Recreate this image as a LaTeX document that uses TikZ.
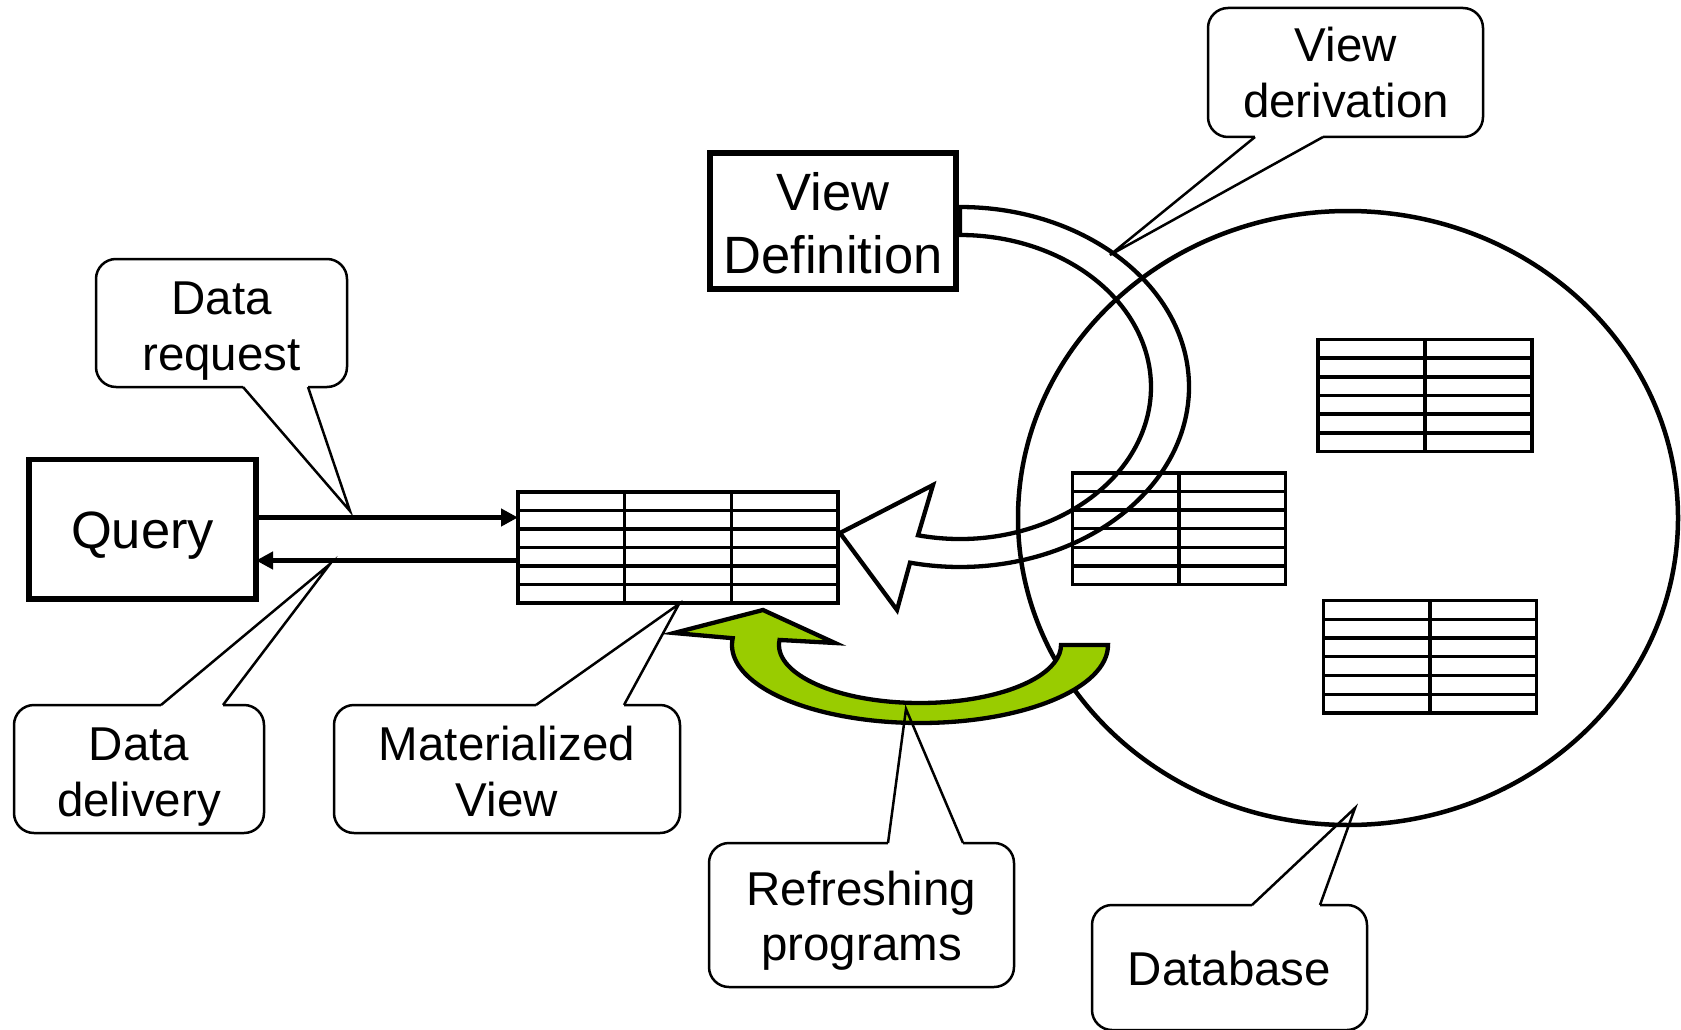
\documentclass[tikz,border=0pt]{standalone}
\usepackage{fontspec}
\setmainfont{Liberation Sans}
\usetikzlibrary{shapes.geometric,arrows.meta,calc}
\definecolor{refgreen}{HTML}{99CC00}
\newcommand{\tabgrid}[2]{%
  \foreach \i in {1,...,5}
    \draw[gridline] ($(#1.north west)!\i/6!(#1.south west)$) -- ($(#1.north east)!\i/6!(#1.south east)$);
  \pgfmathtruncatemacro\lastcol{#2-1}%
  \foreach \j in {1,...,\lastcol}
    \draw[gridline] ($(#1.north west)!\j/#2!(#1.north east)$) -- ($(#1.south west)!\j/#2!(#1.south east)$);
}
\newcommand{\callptr}[3]{%
  \fill[white] ($(#1)+(0,-1.7)$) rectangle ($(#3)+(0,1.7)$);
  \draw[pointer] (#1) -- (#2) -- (#3);
}
\begin{document}
\begin{tikzpicture}[x=1pt,y=-1pt,
  thickbox/.style={draw, fill=white, line width=5.5pt, inner sep=0pt, outer sep=0pt},
  tablebox/.style={draw, fill=white, line width=3.4pt, inner sep=0pt, outer sep=0pt},
  gridline/.style={line width=3.4pt},
  dbshape/.style={draw, ellipse, line width=4.5pt, inner sep=0pt, outer sep=0pt},
  callbox/.style={draw, fill=white, line width=2.5pt, rounded corners=20pt, inner sep=0pt, outer sep=0pt},
  pointer/.style={line width=2.5pt},
  calltext/.style={font=\fontsize{47.5}{56}\selectfont, anchor=base, inner sep=0pt},
  bigtext/.style={font=\fontsize{52.5}{63}\selectfont, anchor=base, inner sep=0pt},
  flow/.style={line width=5.5pt, -{Triangle[length=17pt,width=17pt]}},
  band/.style={line width=4.3pt},
  refresh/.style={line width=4.3pt, fill=refgreen},
]
\useasboundingbox[fill=white] (0,0) rectangle (1681,1030);

% Database
\node[dbshape, minimum width=660pt, minimum height=614pt] (db) at (1348,518) {};

% tables
\node[tablebox, minimum width=214pt, minimum height=112pt] (t1) at (1425,395.5) {};
\tabgrid{t1}{2}
\node[tablebox, minimum width=213pt, minimum height=111.5pt] (t2) at (1179,528.75) {};
\tabgrid{t2}{2}
\node[tablebox, minimum width=213pt, minimum height=112.5pt] (t3) at (1430,656.75) {};
\tabgrid{t3}{2}
\node[tablebox, minimum width=320pt, minimum height=111pt] (mv) at (678,547.5) {};
\tabgrid{mv}{3}

% view derivation band arrow
\coordinate (bc) at (960,387);
\coordinate (bandtip) at (840,533);
\draw[band] ($(bc)+(-90:229 and 180)$) arc[start angle=-90, end angle=102.6, x radius=229, y radius=180]
  -- (897,610) -- (bandtip) -- (933,485)
  -- ($(bc)+(102.7:191 and 152)$) arc[start angle=102.7, end angle=-90, x radius=191, y radius=152] -- cycle;

% refreshing green arrow
\coordinate (gc) at (920,645);
\coordinate (greentip) at (763,610);
\draw[refresh] ($(gc)+(0:141 and 58)$) -- ($(gc)+(0:188 and 78)$)
  arc[start angle=0, end angle=185, x radius=188, y radius=78]
  -- (674,633) -- (greentip) -- (835,643)
  -- ($(gc)+(185:141 and 58)$) arc[start angle=185, end angle=0, x radius=141, y radius=58] -- cycle;

% Query and View Definition
\node[thickbox, minimum width=227pt, minimum height=139.5pt] (query) at (142.5,529.25) {};
\node[bigtext] (querytext) at (142.5,548) {Query};
\node[thickbox, minimum width=246pt, minimum height=136pt] (vdef) at (833,221) {};
\node[bigtext] (vdef1) at (833,210) {View};
\node[bigtext] (vdef2) at (833,273) {Definition};

% request / delivery arrows
\coordinate (rq) at (0,517.5);
\coordinate (dl) at (0,560.5);
\draw[flow] (query.east |- rq) -- (mv.west |- rq);
\draw[flow] (mv.west |- dl) -- (query.east |- dl);

% callouts
\node[callbox, minimum width=251pt, minimum height=128pt] (dreq) at (221.5,323) {};
\coordinate (dreqA) at (243,387); \coordinate (dreqT) at (350,511); \coordinate (dreqB) at (308,387);
\callptr{dreqA}{dreqT}{dreqB}
\node[calltext] (dreq1) at (221.5,314) {Data};
\node[calltext] (dreq2) at (221.5,370) {request};

\node[callbox, minimum width=250pt, minimum height=128pt] (ddel) at (139,769) {};
\coordinate (ddelA) at (161,705); \coordinate (ddelT) at (330,564); \coordinate (ddelB) at (223,705);
\callptr{ddelA}{ddelT}{ddelB}
\node[calltext] (ddel1) at (139,760) {Data};
\node[calltext] (ddel2) at (139,816) {delivery};

\node[callbox, minimum width=346pt, minimum height=128pt] (mvc) at (507,769) {};
\coordinate (mvcA) at (536,705); \coordinate (mvcT) at (679,604); \coordinate (mvcB) at (624,705);
\callptr{mvcA}{mvcT}{mvcB}
\node[calltext] (mvc1) at (507,760) {Materialized};
\node[calltext] (mvc2) at (507,816) {View};

\node[callbox, minimum width=305pt, minimum height=144pt] (refc) at (861.5,915) {};
\coordinate (refcA) at (888,843); \coordinate (refcT) at (906,709); \coordinate (refcB) at (963,843);
\callptr{refcA}{refcT}{refcB}
\node[calltext] (refc1) at (861.5,905) {Refreshing};
\node[calltext] (refc2) at (861.5,960) {programs};

\node[callbox, minimum width=275pt, minimum height=125pt] (dbc) at (1229.5,967.5) {};
\coordinate (dbcA) at (1252,905); \coordinate (dbcT) at (1355,808); \coordinate (dbcB) at (1320,905);
\callptr{dbcA}{dbcT}{dbcB}
\node[calltext] (dbc1) at (1229.5,985) {Database};

\node[callbox, minimum width=275pt, minimum height=129pt] (vder) at (1345.5,72.5) {};
\coordinate (vderA) at (1255,137); \coordinate (vderT) at (1110,255); \coordinate (vderB) at (1323,137);
\callptr{vderA}{vderT}{vderB}
\node[calltext] (vder1) at (1346,62) {View};
\node[calltext] (vder2) at (1346,118) {derivation};
\end{tikzpicture}
\end{document}
